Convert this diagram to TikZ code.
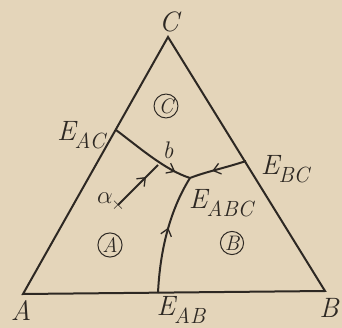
\documentclass[tikz,border=0pt]{standalone}
\usetikzlibrary{arrows.meta,decorations.markings}
\definecolor{paper}{RGB}{228,213,186}
\definecolor{ink}{RGB}{45,40,35}
\newcommand\Esub[1]{E\kern-1pt\raisebox{-0.28em}{\fontsize{22}{24}\selectfont #1}}
\tikzset{
  edge/.style={draw=ink,line width=2pt},
  curvearrow/.style={edge,postaction={decorate},decoration={markings,
     mark=at position #1 with {\arrow[ink]{Straight Barb[length=7pt,width=11pt,line width=1.3pt]}}}},
  lbl/.style={text=ink,font=\fontsize{28}{32}\selectfont\itshape,inner sep=0pt},
  small/.style={text=ink,font=\fontsize{24}{26}\selectfont\itshape,inner sep=0pt},
  region/.style={circle,draw=ink,line width=1pt,text=ink,inner sep=1pt,minimum size=22pt,font=\fontsize{21}{23}\selectfont\itshape}
}
\begin{document}
\begin{tikzpicture}[x=1pt,y=-1pt]
\fill[paper] (0,0) rectangle (342,328);
\useasboundingbox (0,0) rectangle (342,328);
\coordinate (A) at (23,294);
\coordinate (B) at (325,291);
\coordinate (C) at (168,37);
\coordinate (EAC) at (116,130);
\coordinate (EBC) at (246,161);
\coordinate (EAB) at (158,293);
\coordinate (J) at (190,178);
\coordinate (pa) at (118,205);
\coordinate (pb) at (158,165);
\draw[edge,line join=miter] (A) -- (B) -- (C) -- cycle;
\draw[curvearrow=0.82] (EAC) .. controls (140,148) and (165,170) .. (J);
\draw[curvearrow=0.6] (EBC) .. controls (225,168) and (205,172) .. (J);
\draw[curvearrow=0.55] (EAB) .. controls (160,250) and (170,210) .. (J);
\draw[curvearrow=0.7] (pa) -- (pb);
\node[text=ink,font=\fontsize{16}{16}\selectfont,inner sep=0pt] (ax) at (pa) {$\times$};
\node[lbl] (lC) at (169,22) {C};
\node[lbl] (lA) at (21,311) {A};
\node[lbl] (lB) at (329,308) {B};
\node[lbl] (lEAC) at (81,135) {\Esub{AC}};
\node[lbl] (lEBC) at (285,169) {\Esub{BC}};
\node[lbl] (lEABC) at (221,203) {\Esub{ABC}};
\node[lbl] (lEAB) at (181,310) {\Esub{AB}};
\node[small] (lb) at (168,150) {b};
\node[small] (lalpha) at (105,198) {$\alpha$};
\node[region] (rC) at (166,106) {C};
\node[region] (rA) at (110,245) {A};
\node[region] (rB) at (232,243) {B};
\end{tikzpicture}
\end{document}
